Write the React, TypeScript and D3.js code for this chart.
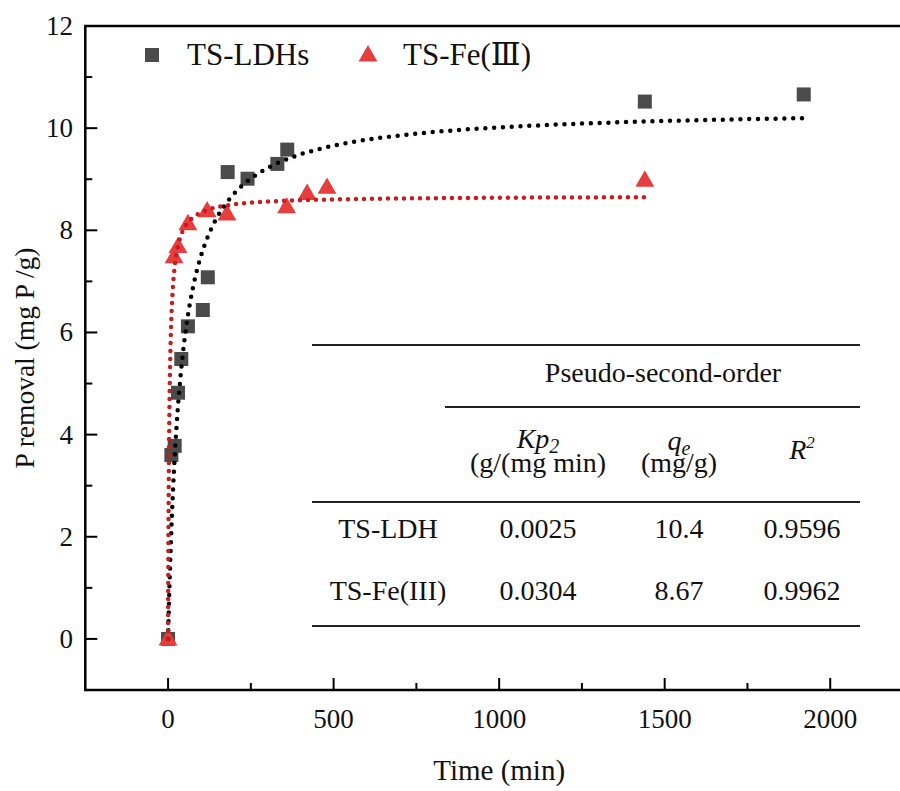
import React from "react";
import * as d3 from "d3";

// ---- data ----
const ldhTime = [0, 10, 20, 30, 40, 60, 105, 120, 180, 240, 330, 360, 1440, 1920];
const ldhQ = [0, 3.6, 3.78, 4.82, 5.48, 6.12, 6.44, 7.08, 9.14, 9.01, 9.3, 9.58, 10.52, 10.66];
const feTime = [0, 18, 30, 60, 118, 178, 358, 420, 480, 1440];
const feQ = [0, 7.48, 7.68, 8.13, 8.38, 8.32, 8.46, 8.72, 8.84, 8.98];

const tableRows = ["TS-LDH", "TS-Fe(III)"];
const kp2 = [0.0025, 0.0304];
const qe = [10.4, 8.67];
const kp2Labels = ["0.0025", "0.0304"];
const qeLabels = ["10.4", "8.67"];
const r2Labels = ["0.9596", "0.9962"];
const fitEnd = [1920, 1440];

const xTicks = [0, 500, 1000, 1500, 2000];
const xMinor = [250, 750, 1250, 1750];
const yTicks = [0, 2, 4, 6, 8, 10, 12];
const yMinor = [1, 3, 5, 7, 9, 11];

const legendLabels = ["TS-LDHs", "TS-Fe(Ⅲ)"];

const FONT = "'Liberation Serif', 'Tinos', 'Noto Serif', 'DejaVu Serif', 'Times New Roman', serif";

export default function App() {
  const W = 900, H = 791;
  const x = d3.scaleLinear().domain([-250, 2250]).range([85.3, 913]);
  const y = d3.scaleLinear().domain([-1, 12]).range([690, 26]);
  const x0 = x(-250), y0 = y(-1), yTop = y(12);

  const fitPath = (k: number, q: number, tMax: number) => {
    const ts: number[] = [];
    for (let t = 0; t <= 20; t += 0.1) ts.push(t);
    for (let t = 20.5; t <= tMax; t += 0.5) ts.push(t);
    ts.push(tMax);
    const line = d3
      .line<number>()
      .x((t) => x(t))
      .y((t) => y((k * q * q * t) / (1 + k * q * t)));
    return line(ts) || "";
  };

  const sq = 14;
  const tri = d3.symbol().type(d3.symbolTriangle).size(155);
  const triPath = tri() || "";
  const txt = { fontFamily: FONT };

  return (
    <svg
      width={W}
      height={H}
      style={{ position: "absolute", left: 0, top: 0, background: "#fff", fontFamily: FONT }}
    >
      <rect x={0} y={0} width={W} height={H} fill="#fff" />
      {ldhTime.map((t, i) => (
        <rect
          key={"s" + i}
          x={x(t) - sq / 2}
          y={y(ldhQ[i]) - sq / 2}
          width={sq}
          height={sq}
          fill="#4b4b4b"
        />
      ))}
      {feTime.map((t, i) => (
        <path
          key={"t" + i}
          d={triPath}
          transform={`translate(${x(t)},${y(feQ[i]) + 1})`}
          fill="#e63d3d"
        />
      ))}
      <path
        d={fitPath(kp2[0], qe[0], fitEnd[0])}
        fill="none"
        stroke="#000"
        strokeWidth={4.5}
        strokeLinecap="round"
        strokeDasharray="0 8.8"
      />
      <path
        d={fitPath(kp2[1], qe[1], fitEnd[1])}
        fill="none"
        stroke="#cc1a1f"
        strokeWidth={4.5}
        strokeLinecap="round"
        strokeDasharray="0 8"
      />

      <g stroke="#000" strokeWidth={2.5} fill="none">
        <line x1={x0} x2={x0} y1={yTop} y2={y0} />
        <line x1={x0 - 1.2} x2={W + 20} y1={y0} y2={y0} />
        <line x1={x0 - 1.2} x2={W + 20} y1={yTop} y2={yTop} />
      </g>
      <g stroke="#000" strokeWidth={2}>
        {xTicks.map((t) => (
          <line key={"xt" + t} x1={x(t)} x2={x(t)} y1={y0} y2={y0 - 12} />
        ))}
        {xMinor.map((t) => (
          <line key={"xm" + t} x1={x(t)} x2={x(t)} y1={y0} y2={y0 - 7} />
        ))}
        {yTicks.map((t) => (
          <line key={"yt" + t} x1={x0} x2={x0 + 12} y1={y(t)} y2={y(t)} />
        ))}
        {yMinor.map((t) => (
          <line key={"ym" + t} x1={x0} x2={x0 + 7} y1={y(t)} y2={y(t)} />
        ))}
      </g>
      <g fontSize={27} fill="#111" style={txt}>
        {xTicks.map((t) => (
          <text key={"xl" + t} x={x(t)} y={728} textAnchor="middle" style={txt}>
            {t}
          </text>
        ))}
        {yTicks.map((t) => (
          <text key={"yl" + t} x={73} y={y(t) + 9} textAnchor="end" style={txt}>
            {t}
          </text>
        ))}
      </g>
      <text x={x(1000)} y={780} textAnchor="middle" fontSize={29} fill="#111" style={txt}>
        Time (min)
      </text>
      <text
        transform="translate(34,358) rotate(-90)"
        textAnchor="middle"
        fontSize={27.5}
        fill="#111"
        style={txt}
      >
        P removal (mg P /g)
      </text>

      <rect x={152 - sq / 2} y={55 - sq / 2} width={sq} height={sq} fill="#4b4b4b" />
      <text x={187} y={65} fontSize={31} fill="#111" style={txt}>
        {legendLabels[0]}
      </text>
      <path d={triPath} transform="translate(368,56)" fill="#e63d3d" />
      <text x={403} y={65} fontSize={31} fill="#111" style={txt}>
        {legendLabels[1]}
      </text>

      <g stroke="#222" strokeWidth={2}>
        <line x1={312} x2={860} y1={345} y2={345} />
        <line x1={445} x2={860} y1={407} y2={407} />
        <line x1={312} x2={860} y1={502} y2={502} />
        <line x1={312} x2={860} y1={626} y2={626} />
      </g>
      <g fontSize={28} fill="#111" textAnchor="middle" style={txt}>
        <text x={663} y={382} style={txt}>Pseudo-second-order</text>
        <text x={538} y={448} fontStyle="italic" style={txt}>
          Kp
          <tspan fontSize={20} dy={5}>2</tspan>
        </text>
        <text x={538} y={472} style={txt}>(g/(mg min)</text>
        <text x={679} y={450} fontStyle="italic" style={txt}>
          q
          <tspan fontSize={20} dy={5}>e</tspan>
        </text>
        <text x={679} y={472} style={txt}>(mg/g)</text>
        <text x={802} y={459} fontStyle="italic" style={txt}>
          R
          <tspan fontSize={17} dy={-11}>2</tspan>
        </text>
        {tableRows.map((r, i) => (
          <g key={r}>
            <text x={388} y={538 + i * 62} style={txt}>{r}</text>
            <text x={538} y={538 + i * 62} style={txt}>{kp2Labels[i]}</text>
            <text x={679} y={538 + i * 62} style={txt}>{qeLabels[i]}</text>
            <text x={802} y={538 + i * 62} style={txt}>{r2Labels[i]}</text>
          </g>
        ))}
      </g>
    </svg>
  );
}
